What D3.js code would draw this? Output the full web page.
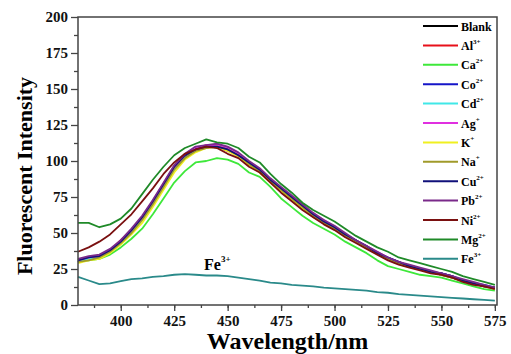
<!DOCTYPE html>
<html>
<head>
<meta charset="utf-8">
<script src="https://cdn.jsdelivr.net/npm/d3@7"></script>
<style>
  body { margin: 0; background: #fff; }
  svg text { font-family: "Liberation Serif", "Times New Roman", "DejaVu Serif", serif; font-weight: bold; }
</style>
</head>
<body>
<script>
// longitudes de onda (nm), cada 5 nm
var longitudes = d3.range(380, 576, 5);

// series
var blank = [30,32,33,38,44,51,60,71,82,95,103,108,110,111,108,104,98,94,86,80,75,68,62,58,54,49,44,40,36,32,29,27,25,23,22,19,17,15,13,12];
var al = [31,32,34,38,45,52,61,72,83,95,104,108,111,110,107,104,99,93,86,80,74,68,63,58,53,48,44,40,36,32,29,27,25,23,21,19,17,15,13,12];
var ca = [31,31,32,35,40,46,53,63,74,85,93,99,100,102,101,98,92,89,82,74,68,62,57,53,49,44,40,36,31,27,25,23,21,20,19,17,15,13,11,10];
var co = [30,33,33,37,44,52,61,72,84,96,104,109,110,111,109,105,99,94,87,81,75,69,63,58,54,49,45,40,36,33,30,27,25,23,22,20,17,15,14,12];
var cd = [30,32,33,37,43,50,59,70,82,94,102,107,110,110,108,104,98,93,86,80,74,68,62,57,53,48,44,40,36,32,29,27,25,23,21,19,17,15,13,11];
var ag = [31,33,34,38,44,52,61,72,84,96,104,109,111,111,109,105,99,94,87,81,75,69,63,59,54,49,45,41,37,33,30,27,25,23,22,20,17,15,13,12];
var k = [29,31,32,36,42,49,57,68,80,92,101,106,109,110,107,103,97,92,85,79,73,67,61,57,53,48,44,40,36,32,29,27,25,23,21,19,17,15,13,11];
var na = [30,31,33,37,43,50,59,70,82,94,102,107,109,110,108,104,98,93,86,80,74,68,62,57,53,48,44,40,36,32,29,27,25,23,21,19,17,15,13,12];
var cu = [31,33,34,38,44,52,61,72,84,96,104,108,110,110,108,104,99,94,87,81,75,69,63,58,54,49,45,41,36,33,30,27,25,23,22,20,17,15,13,12];
var pb = [32,34,35,39,45,53,62,73,85,97,105,110,111,112,110,106,100,95,88,82,76,70,64,59,55,50,45,41,37,33,30,28,26,24,22,20,18,16,14,12];
var ni = [37,40,44,49,56,63,72,81,91,99,105,108,110,109,105,102,96,92,85,78,72,66,61,56,52,47,43,39,35,31,28,26,24,22,21,19,16,14,13,11];
var mg = [57,57,54,56,60,67,77,87,96,104,109,112,115,113,112,109,103,99,91,84,78,71,66,62,58,53,48,44,40,37,33,31,29,27,25,23,20,18,16,14];
var fe = [19.5,17,14.5,15,16.5,18,18.5,19.5,20,21,21.5,21,20.5,20.5,20,19,18,17,15.5,15,14,13.5,13,12,11.5,11,10.5,10,9,8.5,7.5,7,6.5,6,5.5,5,4.5,4,3.5,3];

// nombres (base + superíndice) y colores de la leyenda
var nombres = ["Blank","Al","Ca","Co","Cd","Ag","K","Na","Cu","Pb","Ni","Mg","Fe"];
var cargas = ["","3+","2+","2+","2+","+","+","+","2+","2+","2+","2+","3+"];
var colores = ["#000000","#e8101a","#3ee83a","#1515c8","#40e8e8","#e030e0","#f0f020","#a09a2a","#10107a","#7a2a8a","#7a1010","#1f8a28","#2a8a8a"];
var valores = [blank, al, ca, co, cd, ag, k, na, cu, pb, ni, mg, fe];

var ticksX = [400,425,450,475,500,525,550,575];
var ticksY = [0,25,50,75,100,125,150,175,200];

var width = 511;
var height = 354;
var margen = { arriba: 17, abajo: 49, izquierda: 78, derecha: 14 };
var fuente = "'Liberation Serif', 'Times New Roman', 'DejaVu Serif', serif";

var escalaX = d3.scaleLinear()
    .domain([380, 576])
    .range([margen.izquierda, width - margen.derecha]);

var escalaY = d3.scaleLinear()
    .domain([0, 200])
    .range([height - margen.abajo, margen.arriba]);

var svg = d3.select("body").append("svg")
    .attr("width", width)
    .attr("height", height)
    .attr("font-family", fuente);

// curvas
var linea = d3.line()
    .x(function(d, i) { return escalaX(longitudes[i]); })
    .y(function(d) { return escalaY(d); });

svg.selectAll("path.serie")
    .data(valores)
    .join("path")
    .attr("class", "serie")
    .attr("d", linea)
    .attr("fill", "none")
    .attr("stroke", function(d, i) { return colores[i]; })
    .attr("stroke-width", 1.8)
    .attr("stroke-linejoin", "round");

// marco
svg.append("rect")
    .attr("x", margen.izquierda)
    .attr("y", margen.arriba)
    .attr("width", width - margen.derecha - margen.izquierda)
    .attr("height", height - margen.abajo - margen.arriba)
    .attr("fill", "none")
    .attr("stroke", "#444")
    .attr("stroke-width", 1.5);

// eje X
var ejeX = d3.axisBottom(escalaX).tickValues(ticksX).tickSize(6).tickPadding(4);
svg.append("g")
    .attr("transform", "translate(0," + (height - margen.abajo) + ")")
    .call(ejeX);
var menoresX = d3.axisBottom(escalaX).tickValues(d3.range(387.5, 576, 12.5)).tickSize(3).tickFormat("");
svg.append("g")
    .attr("transform", "translate(0," + (height - margen.abajo) + ")")
    .call(menoresX);

// eje Y
var ejeY = d3.axisLeft(escalaY).tickValues(ticksY).tickSize(7).tickPadding(3);
svg.append("g")
    .attr("transform", "translate(" + margen.izquierda + ",0)")
    .call(ejeY);
var menoresY = d3.axisLeft(escalaY).tickValues(d3.range(12.5, 200, 25)).tickSize(4).tickFormat("");
svg.append("g")
    .attr("transform", "translate(" + margen.izquierda + ",0)")
    .call(menoresY);

svg.selectAll("g").attr("font-family", fuente);
svg.selectAll(".domain").remove();
svg.selectAll(".tick line").attr("stroke", "#444").attr("stroke-width", 1.3);
svg.selectAll(".tick text")
    .attr("fill", "#111")
    .style("font-size", "15px")
    .style("font-family", fuente)
    .style("font-weight", "bold");

// títulos de los ejes
svg.append("text")
    .attr("x", (margen.izquierda + width - margen.derecha) / 2)
    .attr("y", 349)
    .attr("text-anchor", "middle")
    .style("font-size", "24px")
    .text("Wavelength/nm");

svg.append("text")
    .attr("transform", "translate(32," + ((margen.arriba + height - margen.abajo) / 2 + 15) + ") rotate(-90)")
    .attr("text-anchor", "middle")
    .style("font-size", "22px")
    .text("Fluorescent Intensity");

// leyenda
var leyenda = svg.append("g");
nombres.forEach(function(n, i) {
    var y = 26 + i * 19.4;
    leyenda.append("line")
        .attr("x1", 423).attr("x2", 458)
        .attr("y1", y).attr("y2", y)
        .attr("stroke", colores[i])
        .attr("stroke-width", 2);
    var t = leyenda.append("text")
        .attr("x", 461)
        .attr("y", y + 4.5)
        .style("font-size", "12px")
        .text(n);
    if (cargas[i]) {
        t.append("tspan")
            .attr("dy", -6)
            .style("font-size", "7px")
            .text(cargas[i]);
    }
});

// anotación Fe3+
var anot = svg.append("text")
    .attr("x", 204)
    .attr("y", 270)
    .style("font-size", "16px")
    .text("Fe");
anot.append("tspan")
    .attr("dy", -8)
    .style("font-size", "9px")
    .text("3+");
</script>
</body>
</html>
